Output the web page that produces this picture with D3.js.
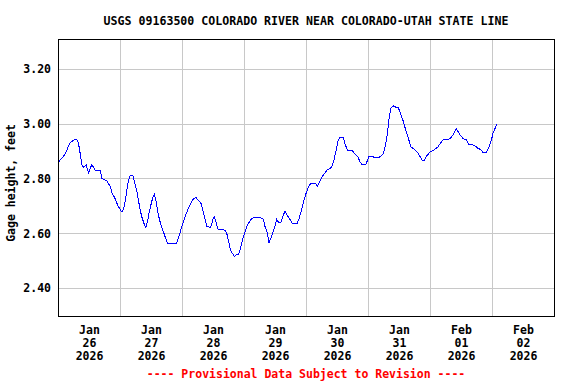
<!DOCTYPE html>
<html>
<head>
<meta charset="utf-8">
<title>USGS 09163500</title>
<script src="https://d3js.org/d3.v7.min.js"></script>
<style>
  body { margin: 0; background: white; }
  text { font-family: "DejaVu Sans Mono", "Liberation Mono", monospace; font-weight: bold; }
</style>
</head>
<body>
<svg id="chart" width="576" height="384"></svg>
<script>
// gage height readings, hours after 2026-01-26 00:00
var hours = [0, 1.0, 1.9, 2.6, 3.2, 3.9, 4.5, 6.1, 7.1, 7.7, 8.4, 9.0, 9.7, 10.7, 11.6, 12.9, 14.2, 16.1, 16.8, 18.7,
  20.0, 20.8, 21.7, 23.0, 24.2, 24.9, 25.5, 26.2, 26.8, 27.7, 28.8, 29.7, 30.5, 31.3, 32.2, 33.1, 33.8, 34.4, 35.0, 35.7,
  36.5, 37.1, 37.8, 38.7, 39.6, 40.6, 41.5, 42.3, 45.5, 46.4, 47.3, 48.3, 49.4, 50.3, 51.3, 52.2, 53.2, 54.1, 55.1, 55.8,
  56.7, 57.4, 58.7, 59.3, 59.9, 60.3, 61.0, 61.6, 64.5, 65.1, 65.7, 66.4, 67.0, 68.1, 68.7, 69.6, 70.3, 71.1, 72.2, 73.2,
  74.5, 75.4, 78.4, 79.3, 79.9, 80.8, 81.5, 82.2, 82.9, 83.8, 84.4, 85.1, 86.1, 87.0, 87.7, 88.5, 89.6, 90.5, 92.4, 93.2,
  94.1, 95.0, 96.0, 97.1, 97.7, 99.6, 100.1, 100.9, 101.8, 102.7, 104.0, 105.7, 106.6, 107.4, 108.3, 108.9, 110.2, 111.1, 112.1, 113.8,
  114.7, 115.8, 116.7, 117.5, 118.9, 119.6, 120.1, 121.8, 122.2, 123.7, 124.8, 125.7, 126.6, 127.4, 128.0, 128.6, 129.5, 130.5, 131.5, 132.4,
  133.4, 134.3, 135.3, 136.4, 137.9, 139.0, 139.9, 140.9, 141.5, 142.4, 143.7, 145.6, 146.9, 148.0, 148.9, 150.8, 152.1, 153.1, 154.0, 154.7,
  155.3, 156.6, 157.9, 158.8, 161.1, 162.2, 163.4, 164.3, 165.6, 166.5, 167.6, 168.2, 169.1, 169.9];
var heights = [2.86, 2.87, 2.88, 2.89, 2.90, 2.92, 2.93, 2.94, 2.94, 2.93, 2.89, 2.85, 2.84, 2.85, 2.82, 2.85, 2.83, 2.83, 2.80, 2.79,
  2.77, 2.745, 2.73, 2.70, 2.68, 2.68, 2.70, 2.74, 2.78, 2.81, 2.81, 2.775, 2.745, 2.70, 2.66, 2.635, 2.62, 2.64, 2.67, 2.70,
  2.73, 2.74, 2.715, 2.665, 2.63, 2.605, 2.58, 2.56, 2.56, 2.58, 2.61, 2.64, 2.67, 2.69, 2.71, 2.725, 2.73, 2.72, 2.71, 2.685,
  2.65, 2.625, 2.62, 2.63, 2.655, 2.66, 2.64, 2.615, 2.61, 2.60, 2.575, 2.545, 2.53, 2.515, 2.52, 2.52, 2.54, 2.57, 2.605, 2.63,
  2.65, 2.655, 2.655, 2.65, 2.625, 2.60, 2.565, 2.58, 2.60, 2.625, 2.65, 2.64, 2.64, 2.665, 2.68, 2.665, 2.65, 2.635, 2.635, 2.655,
  2.685, 2.72, 2.75, 2.775, 2.78, 2.78, 2.77, 2.785, 2.80, 2.815, 2.83, 2.84, 2.865, 2.90, 2.94, 2.95, 2.95, 2.92, 2.90, 2.90,
  2.89, 2.88, 2.86, 2.85, 2.85, 2.865, 2.88, 2.88, 2.875, 2.875, 2.88, 2.89, 2.92, 2.97, 3.02, 3.055, 3.065, 3.06, 3.06, 3.035,
  3.01, 2.98, 2.95, 2.915, 2.905, 2.895, 2.88, 2.865, 2.865, 2.88, 2.895, 2.905, 2.915, 2.93, 2.94, 2.94, 2.95, 2.965, 2.98, 2.97,
  2.96, 2.945, 2.94, 2.925, 2.92, 2.91, 2.905, 2.895, 2.895, 2.91, 2.94, 2.965, 2.985, 3.00];

var yTicks = [2.40, 2.60, 2.80, 3.00, 3.20];
var dayLabels = [["Jan", "26", "2026"], ["Jan", "27", "2026"], ["Jan", "28", "2026"], ["Jan", "29", "2026"],
  ["Jan", "30", "2026"], ["Jan", "31", "2026"], ["Feb", "01", "2026"], ["Feb", "02", "2026"]];

var start = new Date(2026, 0, 26);
var end = new Date(2026, 1, 3);
var data = hours.map(function (h, i) {
  return { t: new Date(start.getTime() + h * 3600000), v: heights[i] };
});

var svg = d3.select("#chart");
var x = d3.scaleTime().domain([start, end]).range([58.5, 554.5]);
var y = d3.scaleLinear().domain([2.295, 3.307]).range([316.5, 39.5]);

// grid
var days = d3.timeDay.range(d3.timeDay.offset(start, 1), end);
svg.append("g").selectAll("line").data(days).enter().append("line")
  .attr("x1", function (d) { return Math.floor(x(d)) + 0.5; })
  .attr("x2", function (d) { return Math.floor(x(d)) + 0.5; })
  .attr("y1", 39.5).attr("y2", 316.5)
  .attr("stroke", "#c8c8c8");
svg.append("g").selectAll("line").data(yTicks).enter().append("line")
  .attr("x1", 58.5).attr("x2", 554.5)
  .attr("y1", function (d) { return Math.round(y(d)) + 0.5; })
  .attr("y2", function (d) { return Math.round(y(d)) + 0.5; })
  .attr("stroke", "#c8c8c8");

// data line
svg.append("path")
  .datum(data)
  .attr("fill", "none")
  .attr("stroke", "#0000ff")
  .attr("stroke-width", 1)
  .attr("shape-rendering", "crispEdges")
  .attr("d", d3.line().x(function (d) { return x(d.t); }).y(function (d) { return y(d.v); }));

// frame
svg.append("rect")
  .attr("x", 58.5).attr("y", 39.5).attr("width", 496).attr("height", 277)
  .attr("fill", "none").attr("stroke", "black");

// y tick labels
svg.append("g").selectAll("text").data(yTicks).enter().append("text")
  .attr("x", 51).attr("y", function (d) { return y(d) + 4.5; })
  .attr("text-anchor", "end")
  .style("font-size", "11.5px")
  .text(function (d) { return d3.format(".2f")(d); });

// x labels at noon of each day
var xl = svg.append("g").selectAll("text").data(dayLabels).enter().append("text")
  .attr("text-anchor", "middle")
  .style("font-size", "11.5px");
xl.each(function (d, i) {
  var cx = x(new Date(start.getTime() + (i * 24 + 12) * 3600000));
  var t = d3.select(this);
  d.forEach(function (s, k) {
    t.append("tspan").attr("x", cx).attr("y", 334 + k * 13).text(s);
  });
});

svg.append("text")
  .attr("transform", "translate(15,183) rotate(-90)")
  .attr("text-anchor", "middle")
  .style("font-size", "11.5px")
  .text("Gage height, feet");

svg.append("text")
  .attr("x", 306).attr("y", 25)
  .attr("text-anchor", "middle")
  .style("font-size", "11.6px")
  .text("USGS 09163500 COLORADO RIVER NEAR COLORADO-UTAH STATE LINE");

svg.append("text")
  .attr("x", 306).attr("y", 378)
  .attr("text-anchor", "middle")
  .attr("fill", "#ff0000")
  .style("font-size", "11.5px")
  .text("---- Provisional Data Subject to Revision ----");
</script>
</body>
</html>
